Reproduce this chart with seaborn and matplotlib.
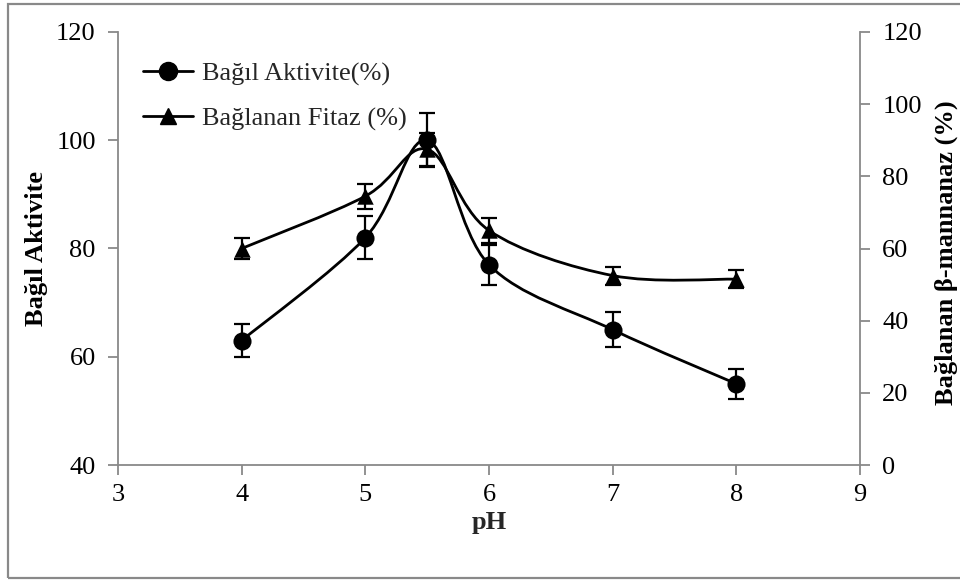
import numpy as np
import pandas as pd
import matplotlib
matplotlib.use("Agg")
import matplotlib.pyplot as plt
import seaborn as sns
from matplotlib.path import Path
from matplotlib.patches import PathPatch, Rectangle
from matplotlib.lines import Line2D

# ---- data ----
ph = [4, 5, 5.5, 6, 7, 8]
aktivite = [63, 82, 100, 77, 65, 55]            # left axis (circles)
aktivite_err = [3.1, 4.0, 5.0, 3.7, 3.2, 2.8]
fitaz = [60, 74.5, 87.5, 65, 52.5, 51.5]         # right axis (triangles)
fitaz_err = [3.0, 3.5, 4.5, 3.5, 2.5, 2.5]
x_ticks = [3, 4, 5, 6, 7, 8, 9]
left_ticks = [40, 60, 80, 100, 120]
right_ticks = [0, 20, 40, 60, 80, 100, 120]

sns.set_theme(style="white")
plt.rcParams['font.family'] = ['Liberation Serif', 'DejaVu Serif']
FS = 19
AXC = '#898989'

fig = plt.figure(figsize=(9.6, 5.8), dpi=100)
ax = fig.add_axes([118/960, 1-465/580, 742/960, 433/580])
ax2 = ax.twinx()
ax.set_zorder(ax2.get_zorder() + 1)
ax.patch.set_visible(False)


def smooth_path(xs, ys):
    """Excel-like smoothed line as cubic Bezier segments through the data points."""
    pts = np.column_stack([xs, ys]).astype(float)
    n = len(pts)
    verts = [pts[0]]
    codes = [Path.MOVETO]
    for i in range(n - 1):
        p0 = pts[i - 1] if i > 0 else pts[i]
        p1 = pts[i]
        p2 = pts[i + 1]
        p3 = pts[i + 2] if i + 2 < n else pts[i + 1]
        c1 = p1 + (p2 - p0) / 6.0
        c2 = p2 - (p3 - p1) / 6.0
        verts += [c1, c2, p2]
        codes += [Path.CURVE4] * 3
    return Path(verts, codes)


df1 = pd.DataFrame({'pH': ph, 'val': aktivite})
df2 = pd.DataFrame({'pH': ph, 'val': fitaz})

# triangles series on right axis
ax2.add_patch(PathPatch(smooth_path(ph, fitaz), fill=False, edgecolor='black', lw=2.0, zorder=2))
ax2.errorbar(ph, fitaz, yerr=fitaz_err, fmt='none', ecolor='black', elinewidth=1.6,
             capsize=6, capthick=1.6, zorder=3)
sns.scatterplot(data=df2, x='pH', y='val', marker='^', s=140, color='black',
                edgecolor='black', linewidth=0, ax=ax2, zorder=4, legend=False)

# circles series on left axis
ax.add_patch(PathPatch(smooth_path(ph, aktivite), fill=False, edgecolor='black', lw=2.0, zorder=2))
ax.errorbar(ph, aktivite, yerr=aktivite_err, fmt='none', ecolor='black', elinewidth=1.6,
            capsize=6, capthick=1.6, zorder=3)
sns.scatterplot(data=df1, x='pH', y='val', marker='o', s=170, color='black',
                edgecolor='black', linewidth=0, ax=ax, zorder=4, legend=False)

# axes limits & ticks
ax.set_xlim(3, 9)
ax.set_ylim(40, 120)
ax2.set_ylim(0, 120)
ax.set_xticks(x_ticks)
ax.set_yticks(left_ticks)
ax2.set_yticks(right_ticks)

for a in (ax, ax2):
    for s in a.spines.values():
        s.set_visible(False)
ax.spines['left'].set_visible(True)
ax.spines['bottom'].set_visible(True)
ax2.spines['right'].set_visible(True)
for s in (ax.spines['left'], ax.spines['bottom'], ax2.spines['right']):
    s.set_color(AXC)
    s.set_linewidth(1.3)

ax.tick_params(axis='both', direction='out', length=7, width=1.3, color=AXC,
               labelsize=FS, labelcolor='black', pad=9)
ax.tick_params(axis='x', pad=7, bottom=True)
ax.tick_params(axis='y', left=True)
ax2.tick_params(axis='y', direction='out', length=7, width=1.3, color=AXC,
                labelsize=FS, labelcolor='black', pad=9, right=True)
ax.grid(False)
ax2.grid(False)

ax.set_xlabel('')
ax.set_ylabel('Bağıl Aktivite', fontsize=FS, fontweight='bold', color='black')
ax.yaxis.set_label_coords((37-118)/742, 0.5)
ax.yaxis.label.set_va('center')
ax2.set_ylabel('Bağlanan β-mannanaz (%)', fontsize=FS, fontweight='bold', color='black')
ax2.yaxis.set_label_coords((946-118)/742, 0.49)
ax2.yaxis.label.set_va('center')
ax2.yaxis.label.set_rotation(90)
fig.text(489/960, 1-523/580, 'pH', fontsize=FS, fontweight='bold', ha='center', va='center')

# legend
handles = [
    Line2D([], [], color='black', lw=2.0, marker='o', markersize=13),
    Line2D([], [], color='black', lw=2.0, marker='^', markersize=11),
]
ax.legend(handles, ['Bağıl Aktivite(%)', 'Bağlanan Fitaz (%)'], loc='upper left',
          bbox_to_anchor=((143-118)/742, (465-62)/433), frameon=False, fontsize=FS,
          handlelength=1.9, handletextpad=0.35, labelspacing=0.8, borderaxespad=0,
          borderpad=0)

# outer border
fig.patches.append(Rectangle((8/960, 2/580), 1.2, 1-6/580, transform=fig.transFigure,
                             fill=False, edgecolor=AXC, lw=1.6, zorder=0))

fig.savefig('out.png', dpi=100)
